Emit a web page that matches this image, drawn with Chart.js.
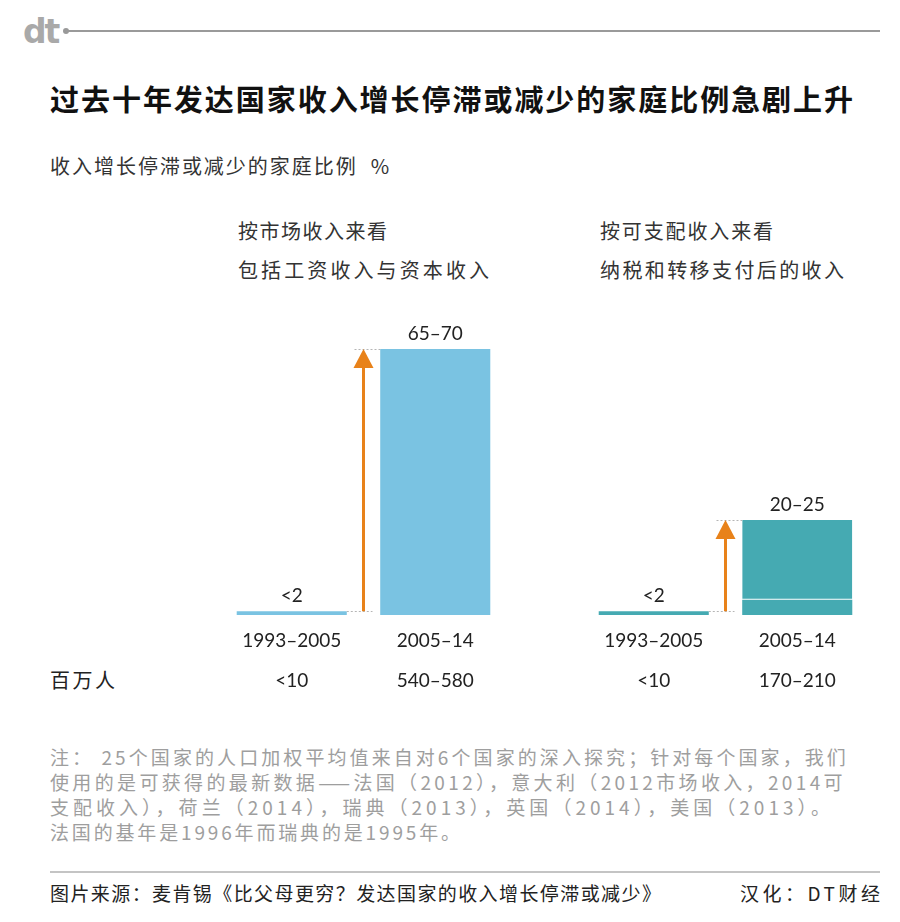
<!DOCTYPE html>
<html><head><meta charset="utf-8">
<script src="https://cdn.jsdelivr.net/npm/chart.js@4/dist/chart.umd.min.js"></script>
<style>
html,body{margin:0;padding:0;background:#fff;}
body{width:900px;height:922px;position:relative;overflow:hidden;font-family:"Noto Sans CJK SC","Noto Sans",sans-serif;color:#222;}
.t{position:absolute;white-space:nowrap;line-height:1;}
canvas{position:absolute;}
</style></head>
<body>
<div class="t" style="left:23px;top:15px;font-family:'DejaVu Sans',sans-serif;font-weight:bold;font-size:33px;color:#a9a9a9;letter-spacing:-2px;">dt</div>
<div style="position:absolute;left:63px;top:28px;width:6px;height:6px;border-radius:3px;background:#999;"></div>
<div style="position:absolute;left:66px;top:30px;width:814px;height:2px;background:#9a9a9a;"></div>

<div class="t fit" data-end="853" style="left:50px;top:84px;font-size:29px;font-weight:bold;color:#111;">过去十年发达国家收入增长停滞或减少的家庭比例急剧上升</div>
<div class="t fit" data-end="389" style="left:50px;top:156px;font-size:20px;color:#333;">收入增长停滞或减少的家庭比例&nbsp;&nbsp;%</div>

<div class="t fit" data-end="387" style="left:238px;top:221px;font-size:20px;color:#333;">按市场收入来看</div>
<div class="t fit" data-end="489" style="left:238px;top:260px;font-size:20px;color:#333;">包括工资收入与资本收入</div>
<div class="t fit" data-end="773" style="left:600px;top:221px;font-size:20px;color:#333;">按可支配收入来看</div>
<div class="t fit" data-end="844" style="left:600px;top:260px;font-size:20px;color:#333;">纳税和转移支付后的收入</div>

<div class="t fit" data-end="115" style="left:50px;top:670px;font-size:20px;color:#222;">百万人</div>

<canvas id="c1" width="330" height="405" style="left:200px;top:300px;width:330px;height:405px;"></canvas>
<canvas id="c2" width="330" height="405" style="left:562px;top:300px;width:330px;height:405px;"></canvas>

<div class="t fit" data-end="846" style="left:50px;top:747px;font-size:19px;color:#9e9e9e;">注：&nbsp;25个国家的人口加权平均值来自对6个国家的深入探究；针对每个国家，我们</div>
<div class="t fit" data-end="846" style="left:50px;top:772px;font-size:19px;color:#9e9e9e;">使用的是可获得的最新数据——法国（2012），意大利（2012市场收入，2014可</div>
<div class="t fit" data-end="830" style="left:50px;top:797px;font-size:19px;color:#9e9e9e;">支配收入），荷兰（2014），瑞典（2013），英国（2014），美国（2013）。</div>
<div class="t fit" data-end="460" style="left:50px;top:822px;font-size:19px;color:#9e9e9e;">法国的基年是1996年而瑞典的是1995年。</div>

<div style="position:absolute;left:50px;top:871px;width:830px;height:2px;background:#c4c4c4;"></div>
<div class="t fit" data-end="661" style="left:50px;top:883px;font-size:19px;color:#222;">图片来源：麦肯锡《比父母更穷？发达国家的收入增长停滞或减少》</div>
<div class="t fit" data-end="880" style="left:740px;top:883px;font-size:19px;color:#222;">汉化：DT财经</div>

<script>
// ---- data ----
const periods = ["1993–2005", "2005–14"];
const millionsMarket = ["<10", "540–580"];
const millionsDisposable = ["<10", "170–210"];
const marketLabels = ["<2", "65–70"];
const disposableLabels = ["<2", "20–25"];
const marketBase = [1, 70];
const marketUpper = [0, 0];
const disposableBase = [1, 4];
const disposableUpper = [0, 21];
const yMax = 70;

// fit text line widths to the reference by letter-spacing
document.querySelectorAll('.fit').forEach(el => {
  const n = [...el.textContent].length;
  const left = el.getBoundingClientRect().left;
  const w = el.getBoundingClientRect().width;
  const target = parseFloat(el.dataset.end) - left;
  const s = (target - w) / Math.max(1, n - 1);
  el.style.letterSpacing = s.toFixed(2) + 'px';
});

const NUM_FONT = "Lato, 'Noto Sans', sans-serif";

const arrowPlugin = {
  id: 'arrowPlugin',
  afterDatasetsDraw(chart, args, opts) {
    const ctx = chart.ctx;
    const xs = chart.scales.x, ys = chart.scales.y;
    const ds0 = chart.data.datasets[0].data, ds1 = chart.data.datasets[1].data;
    const tot = ds0.map((v, i) => v + ds1[i]);
    const meta = chart.getDatasetMeta(0);
    const b0 = meta.data[0], b1 = meta.data[1];
    const w0 = b0.width / 2;
    const xm = (xs.getPixelForValue(0) + xs.getPixelForValue(1)) / 2;
    const yLow = ys.getPixelForValue(tot[0]);
    const yHigh = ys.getPixelForValue(tot[1]);
    ctx.save();
    ctx.strokeStyle = '#b5b5b5';
    ctx.lineWidth = 1;
    ctx.setLineDash([2, 2]);
    ctx.beginPath();
    ctx.moveTo(b0.x + w0, Math.round(yLow) + 0.5);
    ctx.lineTo(xm + 9, Math.round(yLow) + 0.5);
    ctx.moveTo(xm - 9, Math.round(yHigh) + 0.5);
    ctx.lineTo(b1.x - b1.width / 2, Math.round(yHigh) + 0.5);
    ctx.stroke();
    ctx.setLineDash([]);
    ctx.fillStyle = '#E8821A';
    ctx.fillRect(xm - 1.5, yHigh + 15, 3, yLow - yHigh - 15);
    ctx.beginPath();
    ctx.moveTo(xm, yHigh);
    ctx.lineTo(xm + 10, yHigh + 19);
    ctx.lineTo(xm - 10, yHigh + 19);
    ctx.closePath();
    ctx.fill();
    ctx.fillStyle = '#222';
    ctx.font = '19px ' + NUM_FONT;
    ctx.textAlign = 'center';
    ctx.textBaseline = 'middle';
    opts.labels.forEach((lab, i) => {
      const yy = ys.getPixelForValue(tot[i]);
      ctx.fillText(lab, xs.getPixelForValue(i), yy - 15);
    });
    ctx.restore();
  }
};

function makeChart(id, base, upper, color, valueLabels, millions) {
  const tickLabels = periods.map((p, i) => [p, millions[i]]);
  return new Chart(document.getElementById(id), {
    type: 'bar',
    data: {
      labels: tickLabels,
      datasets: [
        { data: base, backgroundColor: color, borderWidth: 0, barPercentage: 0.767, categoryPercentage: 1 },
        { data: upper, backgroundColor: color, borderColor: '#ffffff',
          borderWidth: { top: 0, left: 0, right: 0, bottom: 1 }, borderSkipped: false,
          barPercentage: 0.767, categoryPercentage: 1 }
      ]
    },
    options: {
      responsive: false,
      animation: false,
      events: [],
      layout: { padding: { left: 20, right: 23, top: 49, bottom: 0 } },
      plugins: { legend: { display: false }, tooltip: { enabled: false },
                 arrowPlugin: { labels: valueLabels } },
      scales: {
        x: {
          stacked: true,
          grid: { display: false, drawTicks: false },
          border: { display: false },
          ticks: { color: '#222', padding: 6, font: { size: 19, family: NUM_FONT, lineHeight: 40 / 19 } },
          afterFit: (s) => { s.height = 90; }
        },
        y: { stacked: true, display: false, min: 0, max: yMax }
      }
    },
    plugins: [arrowPlugin]
  });
}

makeChart('c1', marketBase, marketUpper, '#7AC3E2', marketLabels, millionsMarket);
makeChart('c2', disposableBase, disposableUpper, '#45AAB2', disposableLabels, millionsDisposable);
</script>
</body></html>
